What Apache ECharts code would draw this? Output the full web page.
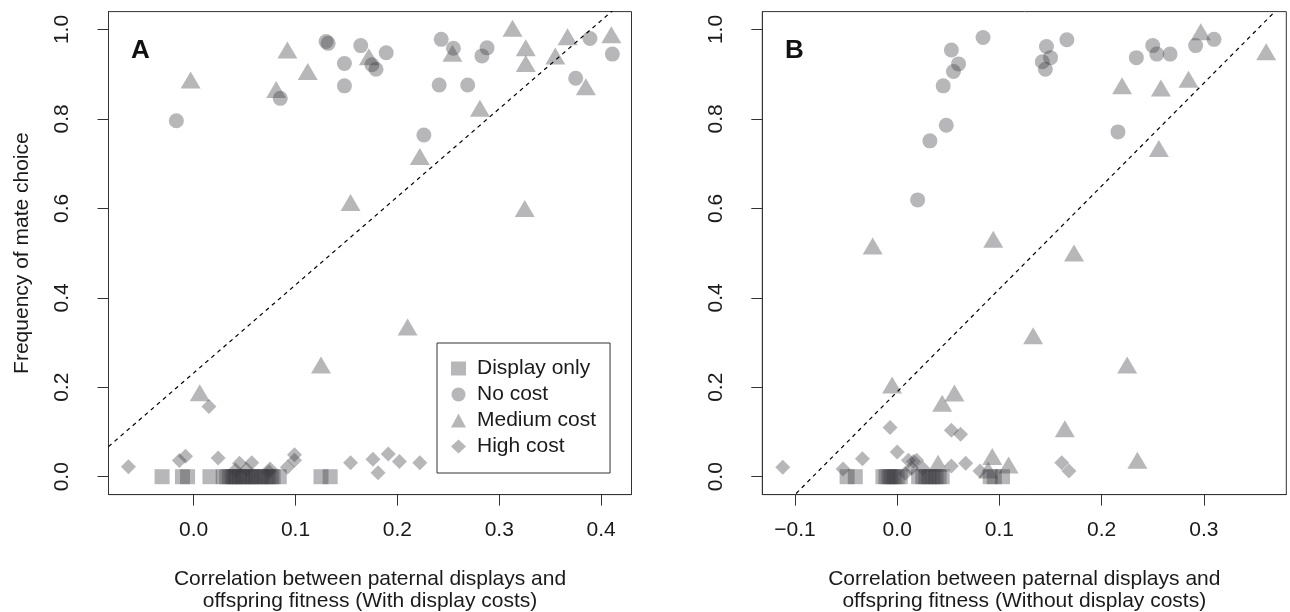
<!DOCTYPE html>
<html>
<head>
<meta charset="utf-8">
<title>Frequency of mate choice</title>
<script src="https://cdn.jsdelivr.net/npm/echarts@6/dist/echarts.min.js"></script>
<style>
html, body { margin: 0; padding: 0; background: #fff; }
#main { width: 1290px; height: 612px; }
</style>
</head>
<body>
<div id="main"></div>
<script>
// ---- data ----
var groupNames = ['Display only', 'No cost', 'Medium cost', 'High cost'];
var xTicksA = [0, 0.1, 0.2, 0.3, 0.4];
var xTicksB = [-0.1, 0, 0.1, 0.2, 0.3];
var yTicks = [0, 0.2, 0.4, 0.6, 0.8, 1.0];

// panel A : with display costs
var aDisplayOnly = [-0.031, -0.011, -0.006, 0.016, 0.029, 0.032, 0.035, 0.038, 0.040, 0.042, 0.045, 0.048,
    0.050, 0.053, 0.056, 0.058, 0.061, 0.064, 0.067, 0.070, 0.073, 0.076, 0.078, 0.084, 0.125, 0.134];
var aNoCost = [[-0.017, 0.796], [0.085, 0.846], [0.130, 0.973], [0.132, 0.969], [0.164, 0.964], [0.148, 0.924],
    [0.148, 0.874], [0.189, 0.948], [0.175, 0.921], [0.179, 0.911], [0.243, 0.978], [0.255, 0.958], [0.288, 0.959],
    [0.283, 0.941], [0.241, 0.876], [0.269, 0.876], [0.226, 0.764], [0.389, 0.980], [0.411, 0.945], [0.375, 0.891]];
var aMediumCost = [[-0.003, 0.887], [0.092, 0.954], [0.112, 0.906], [0.081, 0.866], [0.172, 0.939], [0.222, 0.716],
    [0.154, 0.613], [0.254, 0.947], [0.313, 1.003], [0.326, 0.959], [0.326, 0.924], [0.355, 0.941], [0.367, 0.984],
    [0.410, 0.988], [0.385, 0.872], [0.281, 0.824], [0.325, 0.600], [0.006, 0.188], [0.210, 0.335], [0.125, 0.250]];
var aHighCost = [[-0.064, 0.022], [0.015, 0.157], [-0.014, 0.036], [-0.008, 0.046], [0.024, 0.042], [0.045, 0.030],
    [0.057, 0.031], [0.041, 0.015], [0.052, 0.016], [0.075, 0.017], [0.074, 0.011], [0.099, 0.049], [0.099, 0.037],
    [0.092, 0.021], [0.154, 0.031], [0.176, 0.039], [0.181, 0.009], [0.191, 0.051], [0.202, 0.034], [0.222, 0.031]];
var aFit = { intercept: 0.232, slope: 1.97 };

// panel B : without display costs
var bDisplayOnly = [-0.049, -0.041, -0.014, -0.011, -0.008, -0.006, -0.003, 0.000, 0.003, 0.021, 0.025, 0.028,
    0.031, 0.035, 0.038, 0.041, 0.044, 0.091, 0.095, 0.103];
var bNoCost = [[0.084, 0.982], [0.053, 0.954], [0.060, 0.923], [0.055, 0.906], [0.045, 0.874], [0.048, 0.786],
    [0.032, 0.751], [0.020, 0.619], [0.166, 0.977], [0.146, 0.962], [0.150, 0.937], [0.142, 0.928], [0.145, 0.911],
    [0.234, 0.937], [0.250, 0.964], [0.254, 0.945], [0.267, 0.945], [0.292, 0.964], [0.310, 0.978], [0.216, 0.771]];
var bMediumCost = [[-0.024, 0.516], [0.094, 0.531], [0.297, 0.995], [0.361, 0.950], [0.220, 0.874], [0.258, 0.869],
    [0.285, 0.889], [0.256, 0.734], [0.173, 0.500], [0.133, 0.315], [0.225, 0.250], [0.164, 0.107], [0.235, 0.037],
    [0.093, 0.045], [0.109, 0.026], [-0.005, 0.205], [0.044, 0.164], [0.056, 0.187], [0.040, 0.030], [0.089, 0.015]];
var bHighCost = [[-0.112, 0.021], [-0.053, 0.017], [-0.034, 0.040], [-0.007, 0.110], [0.000, 0.055], [0.011, 0.037],
    [0.016, 0.034], [0.019, 0.037], [0.008, 0.008], [0.014, 0.019], [0.025, 0.019], [0.053, 0.104], [0.062, 0.095],
    [0.053, 0.024], [0.067, 0.030], [0.081, 0.013], [0.161, 0.031], [0.168, 0.013]];
var bFit = { intercept: 0.19, slope: 2.3 };

// axis ranges (R style 4% padding)
var xRangeA = [-0.0836, 0.4298];
var xRangeB = [-0.132, 0.3807];
var yRange = [-0.04, 1.04];

// ---- styling ----
var markColor = 'rgba(55,55,60,0.45)';
var textColor = '#1a1a1a';
var fontFamily = '"Liberation Sans", Arial, Helvetica, sans-serif';
var symbols = {
    'Display only': { symbol: 'rect', size: 15 },
    'No cost': { symbol: 'circle', size: 15 },
    'Medium cost': { symbol: 'triangle', size: [20, 17] },
    'High cost': { symbol: 'diamond', size: [15, 15] }
};

function onBottom(xs) {
    return xs.map(function (x) { return [x, 0]; });
}

function fmt(v) {
    var s = Math.abs(v).toFixed(1);
    return v < 0 ? '\u2212' + s : s;
}

function scatter(name, idx, data) {
    return {
        type: 'scatter',
        name: name,
        xAxisIndex: idx,
        yAxisIndex: idx,
        symbol: symbols[name].symbol,
        symbolSize: symbols[name].size,
        itemStyle: { color: markColor },
        emphasis: { disabled: true },
        silent: true,
        data: data
    };
}

function fitLine(idx, fit, xr) {
    return {
        type: 'line',
        xAxisIndex: idx,
        yAxisIndex: idx,
        symbol: 'none',
        silent: true,
        clip: true,
        lineStyle: { color: '#000', width: 1.2, type: [4, 4] },
        data: [[xr[0], fit.intercept + fit.slope * xr[0]], [xr[1], fit.intercept + fit.slope * xr[1]]]
    };
}

function xAxis(idx, range, ticks, title) {
    return {
        type: 'value',
        gridIndex: idx,
        min: range[0],
        max: range[1],
        axisLine: { show: true, onZero: false, lineStyle: { color: '#333', width: 1 } },
        splitLine: { show: false },
        axisTick: { show: true, inside: false, customValues: ticks, length: 11, lineStyle: { color: '#333', width: 1 } },
        axisLabel: {
            customValues: ticks, formatter: fmt, margin: 25,
            fontSize: 21, color: textColor, fontFamily: fontFamily
        },
        name: title,
        nameLocation: 'middle',
        nameGap: 74,
        nameMoveOverlap: false,
        nameTextStyle: { fontSize: 21, lineHeight: 22, color: textColor, fontFamily: fontFamily }
    };
}

function yAxis(idx, title) {
    return {
        type: 'value',
        gridIndex: idx,
        min: yRange[0],
        max: yRange[1],
        axisLine: { show: true, onZero: false, lineStyle: { color: '#333', width: 1 } },
        splitLine: { show: false },
        axisTick: { show: true, inside: false, customValues: yTicks, length: 11, lineStyle: { color: '#333', width: 1 } },
        axisLabel: {
            customValues: yTicks, formatter: fmt, rotate: 90, margin: 36,
            fontSize: 21, color: textColor, fontFamily: fontFamily
        },
        name: title,
        nameLocation: 'middle',
        nameRotate: 90,
        nameGap: 76,
        nameMoveOverlap: false,
        nameTextStyle: { fontSize: 21, color: textColor, fontFamily: fontFamily }
    };
}

function grid(left, width) {
    return {
        left: left, top: 11.6, width: width, height: 483,
        show: true, borderColor: '#333', borderWidth: 1,
        containLabel: false, outerBoundsMode: 'none'
    };
}

var option = {
    backgroundColor: '#fff',
    animation: false,
    textStyle: { fontFamily: fontFamily },
    title: [
        { text: 'A', left: 126, top: 33, textStyle: { fontSize: 26, fontWeight: 'bold', color: '#111', fontFamily: fontFamily } },
        { text: 'B', left: 780, top: 33, textStyle: { fontSize: 26, fontWeight: 'bold', color: '#111', fontFamily: fontFamily } }
    ],
    grid: [grid(108.5, 523), grid(762.3, 524)],
    legend: {
        data: groupNames,
        orient: 'vertical',
        left: 437,
        top: 343,
        padding: [15, 14, 16, 14],
        itemGap: 5,
        itemWidth: 15,
        itemHeight: 14,
        itemStyle: { color: markColor },
        borderColor: '#333',
        borderWidth: 1,
        backgroundColor: '#fff',
        selectedMode: false,
        textStyle: { fontSize: 21, color: textColor, fontFamily: fontFamily, padding: [0, 0, 0, 6] }
    },
    xAxis: [
        xAxis(0, xRangeA, xTicksA, 'Correlation between paternal displays and\noffspring fitness (With display costs)'),
        xAxis(1, xRangeB, xTicksB, 'Correlation between paternal displays and\noffspring fitness (Without display costs)')
    ],
    yAxis: [
        yAxis(0, 'Frequency of mate choice'),
        yAxis(1, '')
    ],
    series: [
        fitLine(0, aFit, xRangeA),
        scatter('Display only', 0, onBottom(aDisplayOnly)),
        scatter('No cost', 0, aNoCost),
        scatter('Medium cost', 0, aMediumCost),
        scatter('High cost', 0, aHighCost),
        fitLine(1, bFit, xRangeB),
        scatter('Display only', 1, onBottom(bDisplayOnly)),
        scatter('No cost', 1, bNoCost),
        scatter('Medium cost', 1, bMediumCost),
        scatter('High cost', 1, bHighCost)
    ]
};

var myChart = echarts.init(document.getElementById('main'), null, { renderer: 'canvas' });
myChart.setOption(option);
</script>
</body>
</html>
